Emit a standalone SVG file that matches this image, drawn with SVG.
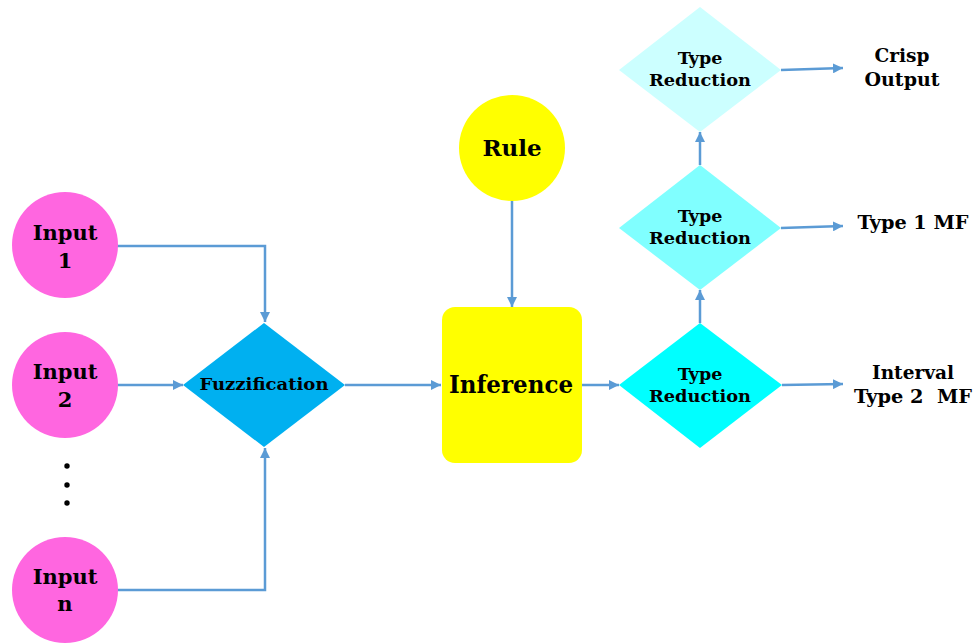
<svg xmlns="http://www.w3.org/2000/svg" width="979" height="644" viewBox="0 0 979 644">
<defs>
<marker id="ah" viewBox="0 0 10 10" refX="10" refY="5" markerWidth="10" markerHeight="10" markerUnits="userSpaceOnUse" orient="auto">
<path d="M0,0 L10,5 L0,10 z" fill="#5B9BD5"/>
</marker>
<style>
.t{font-family:"DejaVu Serif","Liberation Serif",serif;font-weight:bold;fill:#000;text-anchor:middle}
.c{fill:none;stroke:#5B9BD5;stroke-width:2.5;marker-end:url(#ah)}
.pink{fill:#FF66E0}
</style>
</defs>
<rect width="979" height="644" fill="#fff"/>
<g id="connectors">
<path class="c" d="M117,246 H265 V322"/>
<path class="c" d="M117,385 H183"/>
<path class="c" d="M117,590 H265 V448"/>
<path class="c" d="M345,385 H441"/>
<path class="c" d="M512,200 V307"/>
<path class="c" d="M582,385 H619"/>
<path class="c" d="M700,323 V290"/>
<path class="c" d="M700,165 V132"/>
<path class="c" d="M782,385 L843,384"/>
<path class="c" d="M781,228 L843,226"/>
<path class="c" d="M781,70 L843,68"/>
</g>
<g id="input1">
<circle class="pink" cx="65" cy="245" r="53"/>
<text class="t" x="65" y="240" font-size="21">Input</text>
<text class="t" x="65" y="268" font-size="21">1</text>
</g>
<g id="input2">
<circle class="pink" cx="65" cy="385" r="53"/>
<text class="t" x="65" y="379" font-size="21">Input</text>
<text class="t" x="65" y="407" font-size="21">2</text>
</g>
<g id="dots">
<circle cx="67" cy="466" r="2.7"/>
<circle cx="67" cy="485" r="2.7"/>
<circle cx="67" cy="503" r="2.7"/>
</g>
<g id="inputn">
<circle class="pink" cx="65" cy="590" r="53"/>
<text class="t" x="65" y="584" font-size="21">Input</text>
<text class="t" x="65" y="611" font-size="21">n</text>
</g>
<g id="fuzzification">
<path d="M264,323 L345,385 L264,447 L183,385 z" fill="#00B0F0"/>
<text class="t" x="264" y="390" font-size="16.5" textLength="129" lengthAdjust="spacingAndGlyphs">Fuzzification</text>
</g>
<g id="rule">
<circle cx="512" cy="148" r="53" fill="#FFFF00"/>
<text class="t" x="512" y="156" font-size="23">Rule</text>
</g>
<g id="inference">
<rect x="442" y="307" width="140" height="156" rx="13" fill="#FFFF00"/>
<text class="t" x="511" y="393" font-size="24" textLength="124" lengthAdjust="spacingAndGlyphs">Inference</text>
</g>
<g id="tr1">
<path d="M700,323 L782,385 L700,448 L619,385 z" fill="#00FFFF"/>
<text class="t" x="700" y="380" font-size="17.5">Type</text>
<text class="t" x="700" y="402" font-size="17.5" textLength="102" lengthAdjust="spacingAndGlyphs">Reduction</text>
</g>
<g id="tr2">
<path d="M700,165 L781,228 L700,290 L619,228 z" fill="#80FFFF"/>
<text class="t" x="700" y="222" font-size="17.5">Type</text>
<text class="t" x="700" y="244" font-size="17.5" textLength="102" lengthAdjust="spacingAndGlyphs">Reduction</text>
</g>
<g id="tr3">
<path d="M700,7 L781,70 L700,132 L619,70 z" fill="#CCFFFF"/>
<text class="t" x="700" y="64" font-size="17.5">Type</text>
<text class="t" x="700" y="86" font-size="17.5" textLength="102" lengthAdjust="spacingAndGlyphs">Reduction</text>
</g>
<g id="out-crisp">
<text class="t" x="902" y="62" font-size="18.5">Crisp</text>
<text class="t" x="902" y="86" font-size="18.5" textLength="75" lengthAdjust="spacingAndGlyphs">Output</text>
</g>
<g id="out-t1">
<text class="t" x="913" y="229" font-size="18.5" textLength="111" lengthAdjust="spacingAndGlyphs">Type 1 MF</text>
</g>
<g id="out-t2">
<text class="t" x="913" y="379" font-size="18.5" textLength="82" lengthAdjust="spacingAndGlyphs">Interval</text>
<text class="t" x="913" y="403" font-size="18.5" xml:space="preserve" textLength="118" lengthAdjust="spacingAndGlyphs">Type 2  MF</text>
</g>
</svg>
